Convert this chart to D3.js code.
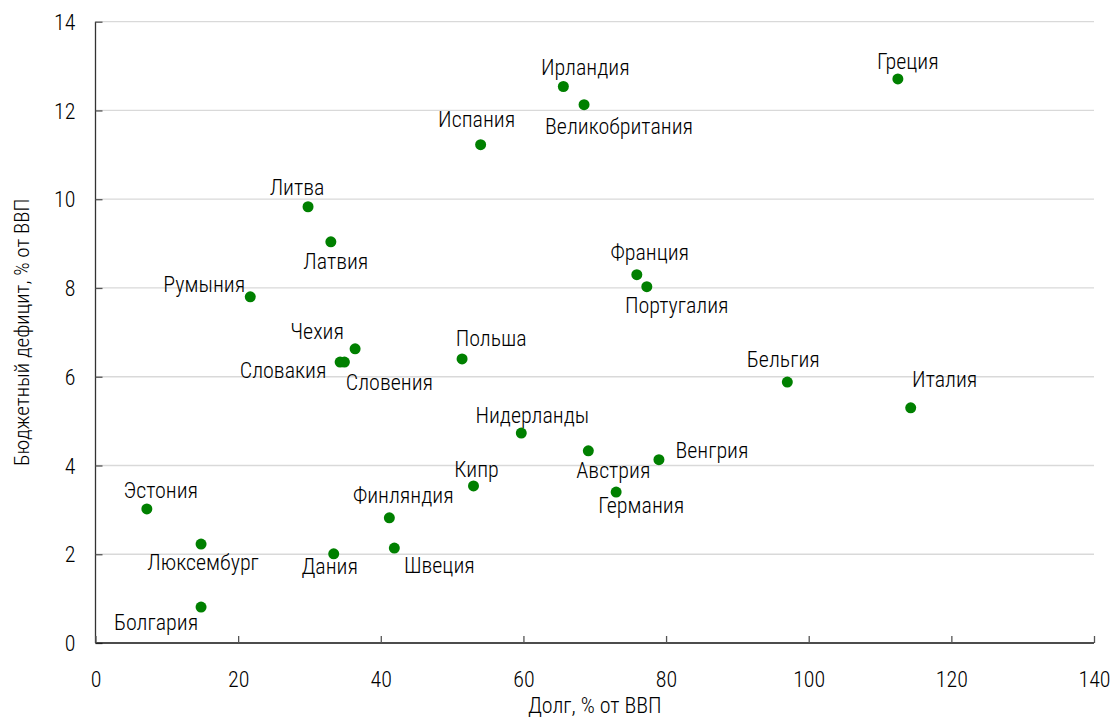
<!DOCTYPE html>
<html><head><meta charset="utf-8">
<script src="https://cdn.jsdelivr.net/npm/d3@7"></script>
<style>
html,body{margin:0;padding:0;background:#fff;}
svg text{font-family:"Roboto Condensed","Arial Narrow",sans-serif;font-weight:300;fill:#000;}
</style></head>
<body><svg id="chart" width="1112" height="717"></svg>
<script>
const countries = ["Греция","Ирландия","Великобритания","Испания","Литва","Латвия","Франция","Португалия","Румыния","Чехия","Словакия","Словения","Польша","Бельгия","Италия","Нидерланды","Австрия","Венгрия","Германия","Кипр","Финляндия","Эстония","Люксембург","Дания","Швеция","Болгария"];
const debt =    [112.5,65.6,68.5,54.0,29.8,33.0,75.9,77.3,21.7,36.4,34.3,34.9,51.4,97.0,114.3,59.7,69.1,79.0,73.0,53.0,41.2,7.2,14.8,33.4,41.9,14.8];
const deficit = [12.71,12.54,12.13,11.23,9.83,9.04,8.30,8.03,7.80,6.63,6.33,6.33,6.40,5.88,5.30,4.73,4.33,4.13,3.40,3.54,2.82,3.02,2.23,2.01,2.14,0.81];
const xTicks = [0,20,40,60,80,100,120,140];
const yTicks = [0,2,4,6,8,10,12,14];
const xTitle = "Долг, % от ВВП";
const yTitle = "Бюджетный дефицит, % от ВВП";

// label placement (layout only): offset of label centre from its point
const labelOffsets = [[10,-18],[22,-19],[35,22],[-4,-25],[-11,-19],[5,19],[13,-22],[30,19],[-46,-13],[-38,-17],[-57,8],[45,20],[29,-21],[-4,-23],[34,-28],[11,-18],[25,19],[53,-9],[25,13],[3,-17],[14,-23],[14,-19],[2,18],[-4,13],[45,17],[-45,15]];

const svg = d3.select("#chart");
const L = 95.5, R = 1094, T = 21.7, B = 643;
const x = d3.scaleLinear().domain([0,140]).range([L,R]);
const y = d3.scaleLinear().domain([0,14]).range([B,T]);

// gridlines
svg.append("g").selectAll("line").data(yTicks.filter(d=>d>0)).join("line")
  .attr("x1",L).attr("x2",R).attr("y1",d=>y(d)).attr("y2",d=>y(d))
  .attr("stroke","#d9d9d9").attr("stroke-width",1.3);

// y axis
const yAxis = svg.append("g").attr("transform",`translate(${L},0)`)
  .call(d3.axisRight(y).tickValues(yTicks).tickSize(7).tickFormat(d3.format("d")));
yAxis.select(".domain").attr("stroke","#333").attr("stroke-width",1.3).attr("d",`M0,${T}V${B}`);
yAxis.selectAll(".tick line").attr("stroke","#555").attr("stroke-width",1.3);
yAxis.selectAll(".tick text").attr("x",-20).attr("text-anchor","end").attr("font-size",22).attr("dy","0.35em");

// x axis
const xAxis = svg.append("g").attr("transform",`translate(0,${B})`)
  .call(d3.axisTop(x).tickValues(xTicks).tickSize(7).tickFormat(d3.format("d")));
xAxis.select(".domain").attr("stroke","#111").attr("stroke-width",1.5).attr("d",`M${L},0H${R}`);
xAxis.selectAll(".tick line").attr("stroke","#555").attr("stroke-width",1.3);
xAxis.selectAll(".tick text").attr("y",36).attr("dy","0.35em").attr("text-anchor","middle").attr("font-size",22);

// titles
svg.append("text").attr("x",(L+R)/2).attr("y",705).attr("dy","0.35em").attr("text-anchor","middle").attr("font-size",22).text(xTitle);
svg.append("text").attr("transform",`translate(22,${(T+B)/2}) rotate(-90)`).attr("dy","0.35em").attr("text-anchor","middle").attr("font-size",21).text(yTitle);

// points
const idx = d3.range(countries.length);
svg.append("g").selectAll("circle").data(idx).join("circle")
  .attr("cx",i=>x(debt[i])).attr("cy",i=>y(deficit[i])).attr("r",5.5).attr("fill","#008000");

// labels
svg.append("g").selectAll("text").data(idx).join("text")
  .attr("x",i=>x(debt[i])+labelOffsets[i][0]).attr("y",i=>y(deficit[i])+labelOffsets[i][1])
  .attr("dy","0.35em").attr("text-anchor","middle").attr("font-size",22).text(i=>countries[i]);
</script></body></html>
